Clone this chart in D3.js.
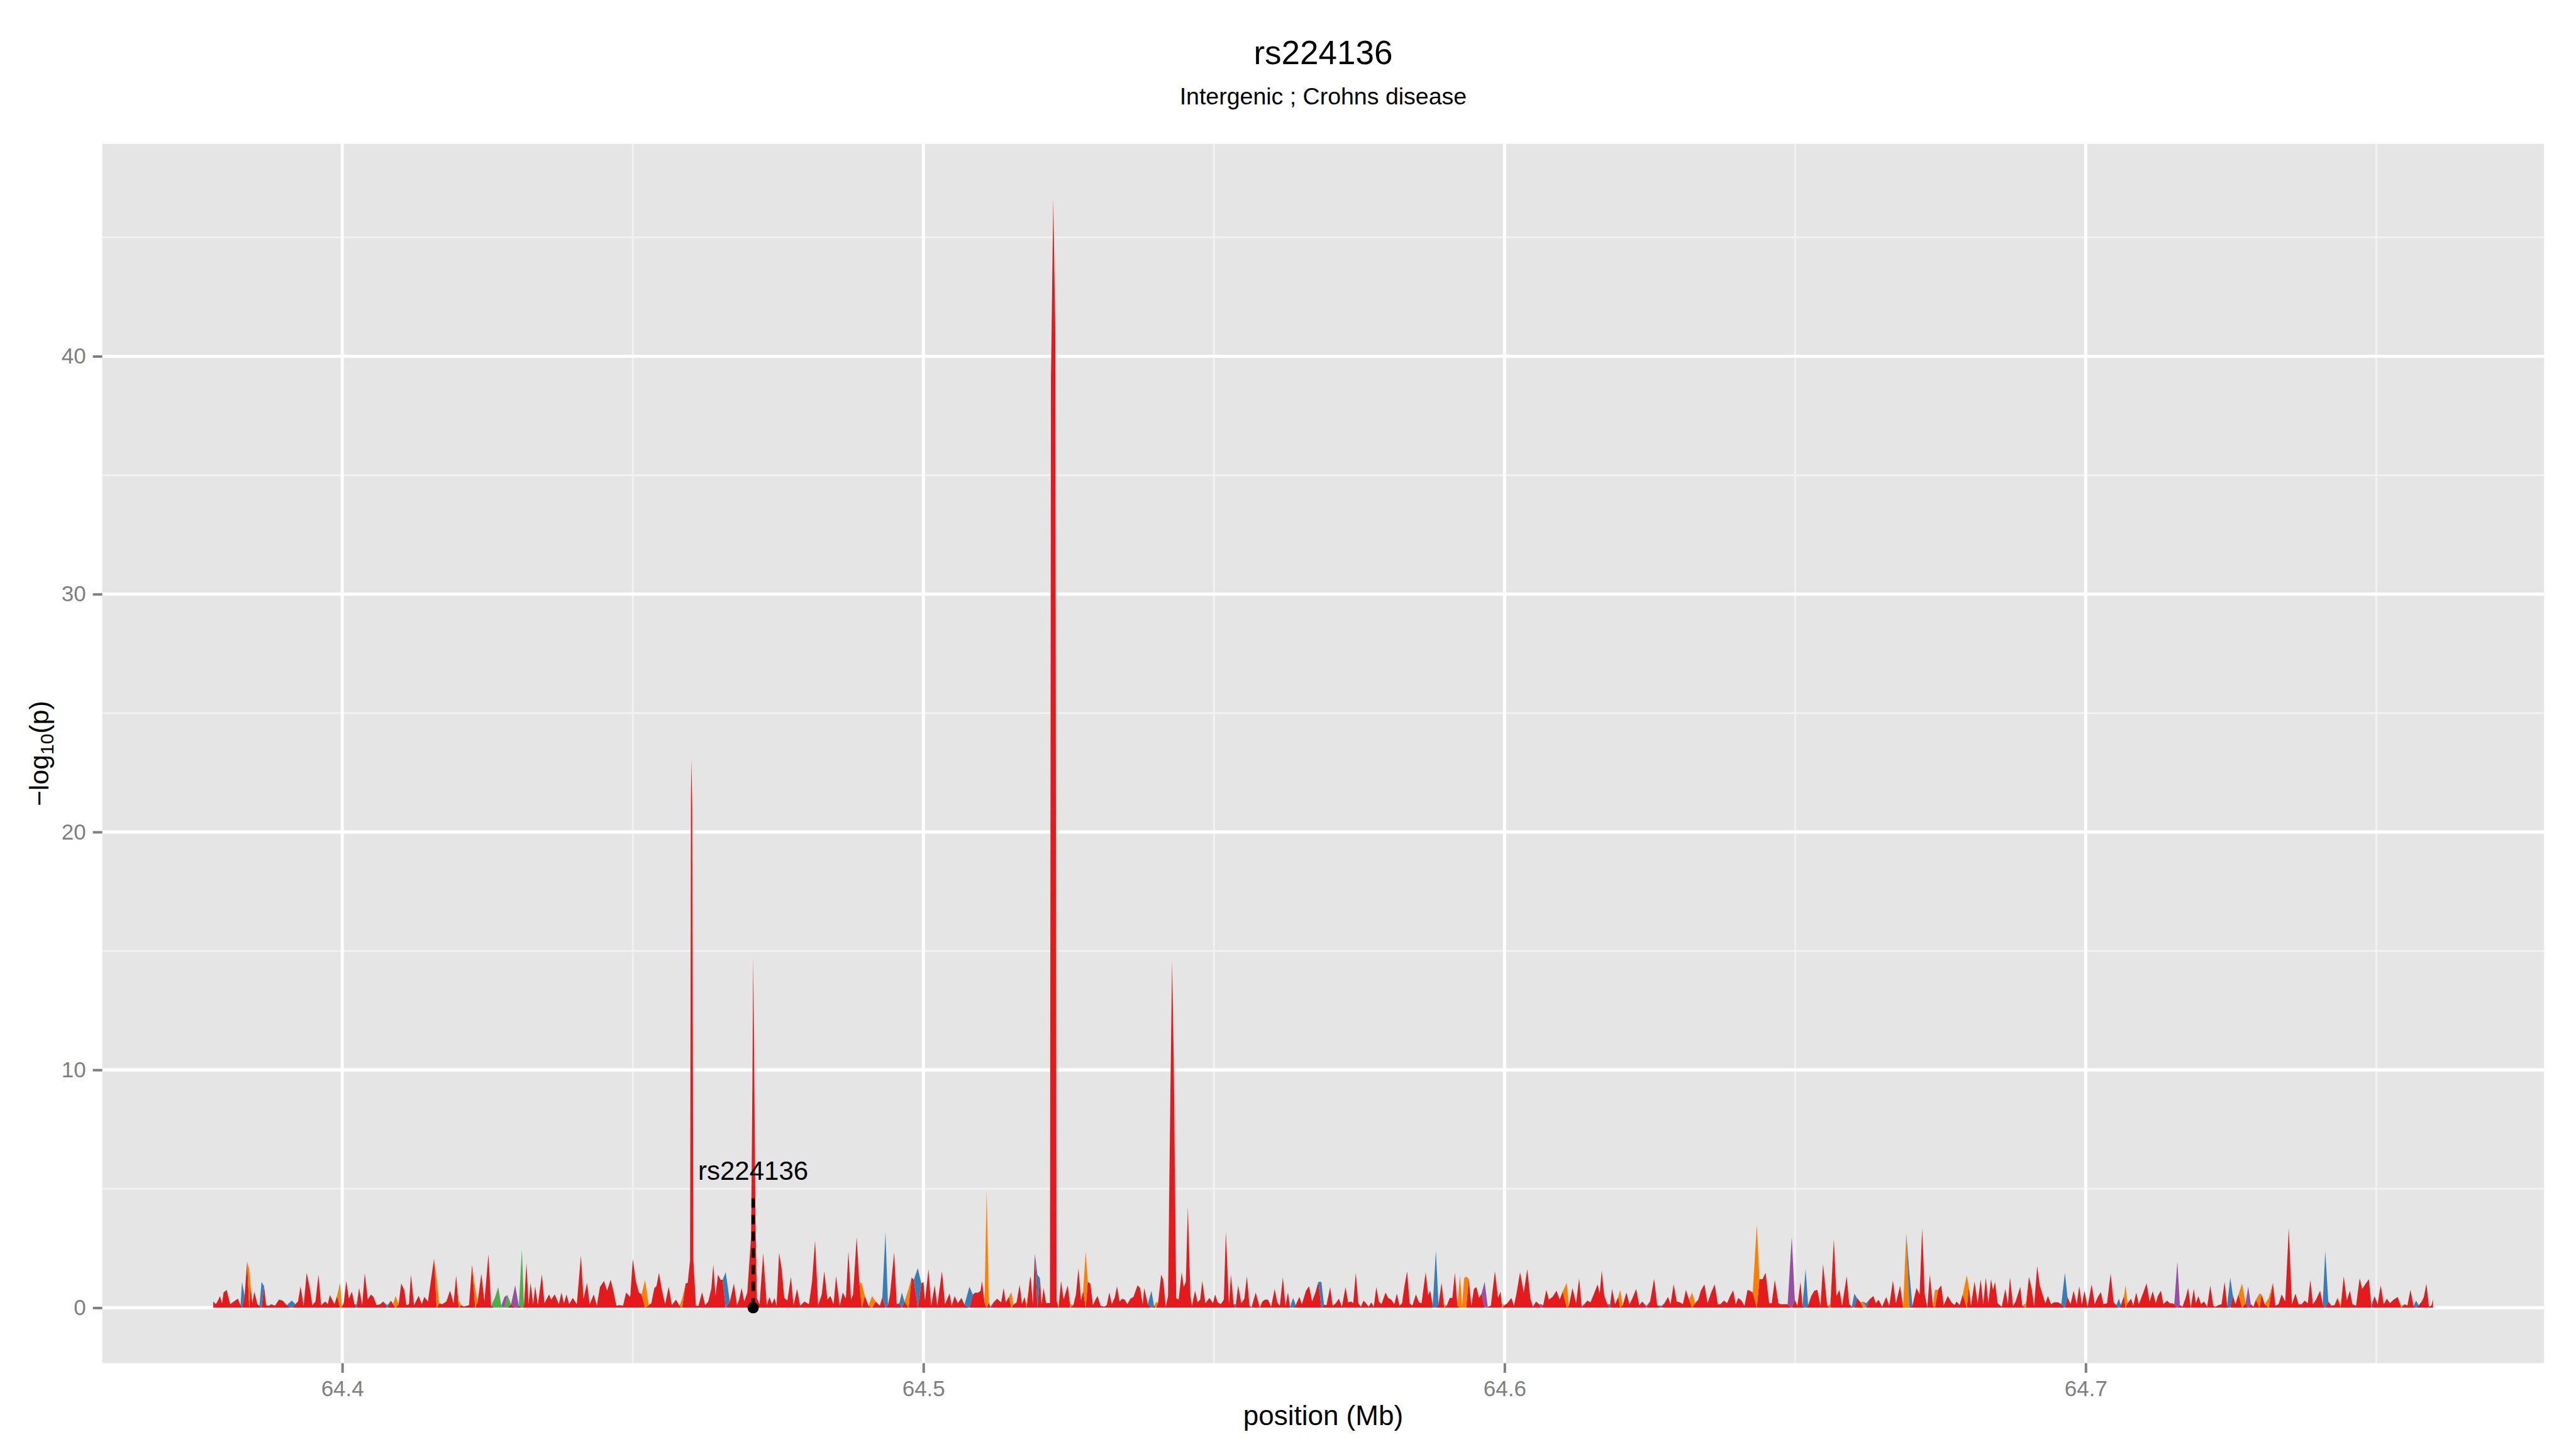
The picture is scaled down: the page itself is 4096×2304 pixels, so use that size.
<!DOCTYPE html>
<html>
<head>
<meta charset="utf-8">
<script src="https://cdnjs.cloudflare.com/ajax/libs/d3/7.8.5/d3.min.js"></script>
<style>
  html, body { margin: 0; padding: 0; background: #fff; }
  svg { display: block; }
  text { font-family: "Liberation Sans", Arial, Helvetica, sans-serif; }
</style>
</head>
<body>
<div id="chart"></div>
<script>
const title = "rs224136";
const subtitle = "Intergenic ; Crohns disease";
const xLabel = "position (Mb)";

const xTicks = [64.4, 64.5, 64.6, 64.7];
const xMinorTicks = [64.45, 64.55, 64.65, 64.75];
const yTicks = [0, 10, 20, 30, 40];
const yMinorTicks = [5, 15, 25, 35, 45];

// SNP positions (Mb)
const snpPos = [
  64.37780, 64.37825, 64.37869, 64.37895, 64.37931, 64.37957, 64.38010, 64.38072, 64.38134, 64.38204,
  64.38249, 64.38275, 64.38319, 64.38363, 64.38399, 64.38425, 64.38452, 64.38487, 64.38540, 64.38575,
  64.38611, 64.38655, 64.38690, 64.38735, 64.38779, 64.38841, 64.38911, 64.38973, 64.39044, 64.39132,
  64.39194, 64.39238, 64.39283, 64.39335, 64.39388, 64.39441, 64.39486, 64.39539, 64.39592, 64.39636,
  64.39707, 64.39751, 64.39786, 64.39866, 64.39910, 64.39963, 64.39989, 64.40025, 64.40069, 64.40113,
  64.40166, 64.40210, 64.40246, 64.40290, 64.40343, 64.40387, 64.40440, 64.40493, 64.40537, 64.40590,
  64.40652, 64.40705, 64.40776, 64.40838, 64.40873, 64.40917, 64.40970, 64.41014, 64.41067, 64.41103,
  64.41147, 64.41182, 64.41235, 64.41315, 64.41368, 64.41412, 64.41474, 64.41536, 64.41580, 64.41624,
  64.41668, 64.41721, 64.41792, 64.41854, 64.41916, 64.41960, 64.42004, 64.42048, 64.42092, 64.42181,
  64.42234, 64.42287, 64.42331, 64.42393, 64.42446, 64.42516, 64.42561, 64.42631, 64.42684, 64.42737,
  64.42790, 64.42843, 64.42905, 64.42976, 64.43038, 64.43091, 64.43126, 64.43170, 64.43206, 64.43241,
  64.43285, 64.43320, 64.43365, 64.43435, 64.43479, 64.43559, 64.43594, 64.43656, 64.43727, 64.43771,
  64.43815, 64.43859, 64.43904, 64.43966, 64.44036, 64.44107, 64.44151, 64.44213, 64.44257, 64.44328,
  64.44381, 64.44434, 64.44504, 64.44557, 64.44619, 64.44672, 64.44717, 64.44770, 64.44832, 64.44885,
  64.44955, 64.45000, 64.45052, 64.45105, 64.45150, 64.45212, 64.45273, 64.45318, 64.45371, 64.45406,
  64.45450, 64.45503, 64.45556, 64.45618, 64.45671, 64.45742, 64.45804, 64.45848, 64.45909, 64.45945,
  64.45985, 64.46000, 64.46011, 64.46022, 64.46042, 64.46086, 64.46130, 64.46192, 64.46245, 64.46298,
  64.46351, 64.46386, 64.46422, 64.46466, 64.46510, 64.46545, 64.46598, 64.46669, 64.46740, 64.46793,
  64.46828, 64.46872, 64.46917, 64.46970, 64.47035, 64.47058, 64.47071, 64.47084, 64.47112, 64.47135,
  64.47181, 64.47243, 64.47305, 64.47350, 64.47394, 64.47438, 64.47473, 64.47517, 64.47562, 64.47606,
  64.47659, 64.47721, 64.47765, 64.47827, 64.47880, 64.47951, 64.48030, 64.48083, 64.48136, 64.48189,
  64.48251, 64.48295, 64.48348, 64.48401, 64.48454, 64.48498, 64.48560, 64.48613, 64.48666, 64.48710,
  64.48755, 64.48790, 64.48852, 64.48896, 64.48940, 64.48993, 64.49055, 64.49117, 64.49179, 64.49250,
  64.49294, 64.49347, 64.49391, 64.49426, 64.49497, 64.49541, 64.49585, 64.49630, 64.49674, 64.49745,
  64.49797, 64.49833, 64.49904, 64.49965, 64.50001, 64.50027, 64.50089, 64.50133, 64.50195, 64.50239,
  64.50319, 64.50372, 64.50451, 64.50486, 64.50539, 64.50592, 64.50654, 64.50707, 64.50792, 64.50851,
  64.50888, 64.50941, 64.50983, 64.51009, 64.51052, 64.51089, 64.51126, 64.51153, 64.51206, 64.51269,
  64.51338, 64.51381, 64.51418, 64.51471, 64.51513, 64.51550, 64.51603, 64.51656, 64.51697, 64.51741,
  64.51777, 64.51830, 64.51847, 64.51883, 64.51918, 64.51962, 64.52006, 64.52033, 64.52068, 64.52112,
  64.52178, 64.52195, 64.52235, 64.52270, 64.52292, 64.52325, 64.52369, 64.52413, 64.52484, 64.52528,
  64.52581, 64.52625, 64.52669, 64.52713, 64.52749, 64.52793, 64.52828, 64.52872, 64.52917, 64.52961,
  64.52996, 64.53049, 64.53111, 64.53155, 64.53199, 64.53243, 64.53296, 64.53332, 64.53376, 64.53420,
  64.53464, 64.53509, 64.53562, 64.53615, 64.53685, 64.53729, 64.53774, 64.53800, 64.53862, 64.53924,
  64.53968, 64.54003, 64.54039, 64.54092, 64.54127, 64.54171, 64.54210, 64.54250, 64.54280, 64.54310,
  64.54350, 64.54392, 64.54445, 64.54480, 64.54516, 64.54551, 64.54595, 64.54622, 64.54675, 64.54719,
  64.54763, 64.54799, 64.54852, 64.54922, 64.54984, 64.55019, 64.55064, 64.55117, 64.55170, 64.55205,
  64.55258, 64.55293, 64.55338, 64.55373, 64.55417, 64.55470, 64.55523, 64.55567, 64.55612, 64.55647,
  64.55718, 64.55788, 64.55833, 64.55877, 64.55930, 64.55983, 64.56045, 64.56089, 64.56133, 64.56186,
  64.56230, 64.56274, 64.56310, 64.56363, 64.56407, 64.56469, 64.56513, 64.56584, 64.56637, 64.56690,
  64.56751, 64.56796, 64.56849, 64.56893, 64.56937, 64.56999, 64.57043, 64.57096, 64.57149, 64.57202,
  64.57264, 64.57308, 64.57361, 64.57396, 64.57441, 64.57485, 64.57529, 64.57573, 64.57617, 64.57662,
  64.57706, 64.57750, 64.57794, 64.57838, 64.57882, 64.57953, 64.57997, 64.58050, 64.58103, 64.58148,
  64.58192, 64.58236, 64.58280, 64.58324, 64.58368, 64.58413, 64.58475, 64.58528, 64.58572, 64.58643,
  64.58687, 64.58722, 64.58766, 64.58819, 64.58864, 64.58917, 64.58961, 64.59005, 64.59058, 64.59102,
  64.59146, 64.59190, 64.59234, 64.59270, 64.59305, 64.59340, 64.59385, 64.59429, 64.59473, 64.59517,
  64.59561, 64.59605, 64.59658, 64.59711, 64.59764, 64.59835, 64.59888, 64.59932, 64.59959, 64.60003,
  64.60047, 64.60118, 64.60162, 64.60206, 64.60268, 64.60330, 64.60392, 64.60445, 64.60489, 64.60542,
  64.60595, 64.60630, 64.60666, 64.60719, 64.60763, 64.60825, 64.60895, 64.60948, 64.61001, 64.61072,
  64.61107, 64.61169, 64.61231, 64.61284, 64.61328, 64.61373, 64.61426, 64.61479, 64.61541, 64.61602,
  64.61638, 64.61673, 64.61717, 64.61770, 64.61814, 64.61850, 64.61903, 64.61956, 64.61991, 64.62035,
  64.62097, 64.62150, 64.62203, 64.62265, 64.62318, 64.62371, 64.62442, 64.62504, 64.62575, 64.62627,
  64.62698, 64.62751, 64.62813, 64.62857, 64.62910, 64.62963, 64.63016, 64.63069, 64.63122, 64.63175,
  64.63228, 64.63281, 64.63334, 64.63378, 64.63440, 64.63493, 64.63555, 64.63617, 64.63670, 64.63714,
  64.63776, 64.63829, 64.63882, 64.63935, 64.63979, 64.64023, 64.64076, 64.64129, 64.64182, 64.64218,
  64.64271, 64.64342, 64.64386, 64.64439, 64.64492, 64.64554, 64.64598, 64.64651, 64.64713, 64.64757,
  64.64819, 64.64872, 64.64942, 64.64995, 64.65040, 64.65093, 64.65128, 64.65181, 64.65225, 64.65278,
  64.65331, 64.65384, 64.65437, 64.65481, 64.65552, 64.65605, 64.65667, 64.65711, 64.65764, 64.65808,
  64.65888, 64.65932, 64.65976, 64.66020, 64.66064, 64.66126, 64.66170, 64.66223, 64.66277, 64.66347,
  64.66391, 64.66436, 64.66497, 64.66568, 64.66621, 64.66683, 64.66736, 64.66807, 64.66860, 64.66913,
  64.66966, 64.67019, 64.67089, 64.67142, 64.67187, 64.67231, 64.67275, 64.67319, 64.67372, 64.67407,
  64.67461, 64.67514, 64.67558, 64.67628, 64.67690, 64.67743, 64.67779, 64.67832, 64.67885, 64.67955,
  64.67991, 64.68026, 64.68088, 64.68141, 64.68194, 64.68238, 64.68282, 64.68326, 64.68371, 64.68406,
  64.68441, 64.68485, 64.68556, 64.68618, 64.68662, 64.68698, 64.68751, 64.68795, 64.68874, 64.68910,
  64.68971, 64.69024, 64.69069, 64.69113, 64.69166, 64.69210, 64.69263, 64.69307, 64.69351, 64.69404,
  64.69457, 64.69528, 64.69581, 64.69643, 64.69687, 64.69740, 64.69793, 64.69846, 64.69890, 64.69935,
  64.69979, 64.70032, 64.70103, 64.70156, 64.70209, 64.70262, 64.70306, 64.70368, 64.70430, 64.70482,
  64.70527, 64.70571, 64.70606, 64.70659, 64.70686, 64.70721, 64.70783, 64.70818, 64.70871, 64.70915,
  64.70995, 64.71048, 64.71101, 64.71154, 64.71207, 64.71242, 64.71295, 64.71339, 64.71401, 64.71445,
  64.71490, 64.71525, 64.71578, 64.71622, 64.71666, 64.71719, 64.71764, 64.71808, 64.71861, 64.71896,
  64.71940, 64.71984, 64.72037, 64.72091, 64.72144, 64.72197, 64.72232, 64.72285, 64.72338, 64.72391,
  64.72435, 64.72488, 64.72532, 64.72577, 64.72630, 64.72691, 64.72753, 64.72797, 64.72842, 64.72886,
  64.72930, 64.72992, 64.73027, 64.73080, 64.73151, 64.73222, 64.73266, 64.73319, 64.73372, 64.73434,
  64.73496, 64.73549, 64.73611, 64.73664, 64.73717, 64.73769, 64.73822, 64.73867, 64.73911, 64.73964,
  64.74035, 64.74079, 64.74123, 64.74176, 64.74229, 64.74282, 64.74335, 64.74388, 64.74441, 64.74494,
  64.74547, 64.74591, 64.74653, 64.74715, 64.74759, 64.74812, 64.74874, 64.74918, 64.74971, 64.75024,
  64.75077, 64.75130, 64.75183, 64.75236, 64.75298, 64.75369, 64.75431, 64.75492, 64.75536, 64.75589,
  64.75642, 64.75687, 64.75731, 64.75784, 64.75819, 64.75864, 64.75908, 64.75952, 64.75978
];

// -log10(p) for each SNP, same order as snpPos
const snpLogP = [
  0.26, 0.15, 0.34, 0.49, 0.19, 0.64, 0.75, 0.15, 0.26, 0.38,
  0.11, 1.09, 0.49, 1.94, 1.62, 0.87, 0.19, 0.68, 0.15, 0.08,
  1.09, 0.90, 0.11, 0.08, 0.15, 0.08, 0.34, 0.30, 0.11, 0.30,
  0.15, 0.26, 0.90, 0.08, 1.47, 0.83, 0.11, 0.26, 1.39, 0.11,
  0.26, 0.15, 0.53, 0.15, 0.49, 1.05, 0.08, 0.19, 1.13, 0.38,
  0.68, 0.15, 0.15, 0.83, 0.11, 1.45, 0.34, 0.56, 0.45, 0.11,
  0.15, 0.26, 0.11, 0.30, 0.15, 0.49, 0.15, 1.02, 0.75, 0.11,
  0.15, 1.39, 0.11, 0.50, 0.15, 0.45, 0.26, 1.32, 2.07, 1.24,
  0.19, 0.15, 0.26, 0.72, 0.19, 1.36, 0.30, 0.11, 0.05, 0.11,
  1.81, 0.83, 0.26, 1.43, 0.26, 2.26, 0.08, 0.45, 0.87, 0.08,
  0.45, 0.53, 0.15, 0.94, 0.08, 2.45, 0.08, 1.88, 0.15, 1.05,
  0.15, 0.90, 0.11, 1.41, 0.19, 0.56, 0.34, 0.56, 0.15, 0.64,
  0.19, 0.56, 0.15, 0.41, 0.15, 2.20, 0.38, 1.05, 0.15, 0.56,
  0.08, 0.87, 1.13, 0.72, 1.18, 0.64, 0.08, 0.11, 0.09, 0.64,
  0.45, 2.05, 1.13, 0.64, 0.56, 1.17, 0.11, 0.19, 0.83, 0.90,
  1.47, 0.72, 0.15, 0.88, 0.11, 0.34, 0.08, 0.38, 1.02, 1.05,
  2.00, 21.5, 23.06, 21.0, 2.00, 0.08, 0.08, 0.66, 0.11, 0.26,
  0.81, 1.82, 0.49, 1.39, 1.17, 1.17, 1.50, 0.26, 1.02, 0.11,
  0.34, 0.83, 0.26, 0.64, 3.00, 9.50, 14.7, 11.5, 3.50, 0.40,
  0.15, 2.30, 0.11, 0.45, 0.15, 0.41, 0.08, 2.31, 1.62, 0.41,
  0.30, 1.30, 0.11, 0.79, 0.08, 0.26, 0.15, 1.09, 2.82, 0.11,
  0.56, 1.54, 0.34, 0.49, 0.15, 1.33, 0.08, 0.64, 0.38, 2.37,
  0.34, 0.56, 2.97, 1.09, 1.02, 0.49, 0.08, 0.49, 0.26, 0.08,
  0.45, 3.18, 0.11, 0.56, 2.33, 0.15, 0.19, 0.64, 0.26, 0.79,
  1.28, 1.17, 1.66, 1.02, 1.09, 0.30, 1.62, 0.08, 0.94, 0.08,
  1.54, 0.15, 0.60, 0.08, 0.49, 0.19, 0.41, 0.13, 0.88, 0.55,
  0.63, 0.63, 0.71, 1.13, 0.22, 4.94, 0.22, 0.05, 0.22, 0.38,
  0.22, 0.83, 0.22, 0.46, 0.66, 0.13, 0.22, 0.96, 0.15, 0.45,
  0.15, 1.17, 1.32, 0.15, 2.28, 1.39, 1.24, 0.15, 0.83, 0.19,
  0.20, 39.0, 46.6, 41.0, 0.30, 0.08, 1.13, 0.34, 0.94, 0.15,
  0.11, 0.56, 1.66, 0.30, 0.72, 2.37, 1.09, 1.02, 0.11, 0.34,
  0.49, 0.08, 0.04, 0.11, 0.64, 0.15, 0.45, 0.90, 0.26, 0.38,
  0.34, 0.15, 0.38, 0.45, 0.94, 0.83, 0.15, 0.83, 0.15, 0.72,
  0.08, 0.23, 0.23, 1.39, 1.17, 0.04, 0.50, 9.00, 14.6, 10.0,
  0.40, 0.34, 1.50, 0.87, 1.09, 4.25, 0.49, 0.08, 0.72, 0.23,
  0.34, 1.13, 0.19, 0.41, 0.19, 0.56, 0.23, 0.15, 0.34, 3.20,
  0.15, 1.39, 0.15, 0.15, 0.94, 0.19, 0.38, 1.32, 0.08, 0.04,
  0.64, 0.04, 0.26, 0.34, 0.34, 0.04, 0.79, 0.23, 0.08, 1.28,
  0.08, 0.64, 0.04, 0.41, 0.11, 0.45, 0.15, 0.72, 0.90, 0.26,
  0.68, 1.09, 1.09, 0.13, 0.11, 0.87, 0.08, 0.19, 0.38, 0.04,
  0.87, 0.23, 0.26, 0.19, 1.47, 0.19, 0.04, 0.30, 0.19, 0.04,
  0.23, 0.04, 0.87, 0.26, 0.15, 0.64, 0.41, 0.34, 0.15, 0.60,
  0.08, 0.19, 0.94, 1.53, 0.19, 0.08, 0.56, 0.23, 0.19, 1.50,
  0.53, 0.72, 0.15, 2.41, 0.15, 1.05, 0.15, 0.08, 0.41, 0.41,
  1.47, 0.08, 1.36, 0.08, 1.24, 1.32, 1.20, 0.08, 0.79, 0.87,
  0.41, 0.60, 1.09, 0.04, 0.08, 1.54, 0.41, 0.68, 0.15, 0.11,
  0.19, 0.41, 0.08, 0.60, 1.50, 0.64, 1.62, 0.38, 0.04, 0.26,
  0.15, 0.15, 0.11, 0.75, 0.34, 0.45, 0.72, 0.34, 0.68, 1.05,
  0.08, 0.83, 0.19, 1.24, 0.04, 0.15, 0.30, 0.23, 0.60, 0.98,
  0.60, 1.56, 0.49, 0.15, 0.15, 0.79, 0.15, 0.45, 0.75, 0.11,
  0.64, 0.15, 0.41, 0.79, 0.11, 0.26, 0.08, 0.26, 1.22, 0.11,
  0.08, 0.19, 0.45, 0.15, 0.99, 0.26, 0.23, 0.15, 0.75, 0.34,
  0.64, 0.19, 0.34, 0.72, 0.98, 0.19, 0.64, 0.98, 0.15, 0.15,
  0.30, 0.19, 0.49, 0.73, 0.15, 0.41, 0.30, 0.08, 0.75, 0.72,
  0.64, 3.50, 1.20, 1.20, 1.47, 0.19, 0.19, 1.17, 0.19, 0.15,
  0.15, 0.15, 2.97, 0.34, 0.08, 1.09, 0.08, 1.62, 0.11, 0.49,
  0.72, 0.75, 0.08, 1.84, 0.08, 0.15, 2.90, 0.49, 0.75, 0.08,
  1.32, 0.15, 0.04, 0.59, 0.41, 0.23, 0.26, 0.19, 0.34, 0.49,
  0.19, 0.34, 0.04, 0.45, 0.08, 1.14, 0.19, 0.93, 0.08, 3.14,
  1.50, 0.08, 0.83, 0.56, 3.35, 0.56, 0.08, 1.39, 0.08, 0.75,
  0.75, 0.94, 0.11, 0.49, 0.23, 0.11, 0.26, 0.11, 0.56, 1.37,
  0.87, 0.08, 1.11, 0.19, 1.20, 0.15, 1.27, 0.19, 1.20, 0.75,
  1.09, 0.19, 0.04, 0.79, 0.15, 1.28, 0.08, 0.26, 0.88, 0.08,
  0.19, 1.30, 0.83, 0.08, 1.75, 0.94, 0.53, 0.19, 0.49, 0.15,
  0.23, 0.23, 0.15, 1.48, 0.45, 0.15, 0.72, 0.15, 0.90, 0.13,
  0.72, 0.04, 0.98, 0.15, 0.45, 0.66, 0.15, 0.19, 1.43, 0.23,
  0.11, 0.38, 0.11, 0.49, 0.94, 0.19, 0.38, 0.08, 0.64, 0.15,
  0.66, 1.03, 0.26, 0.70, 0.19, 0.49, 0.72, 0.15, 0.30, 0.19,
  0.19, 0.15, 1.94, 0.11, 0.04, 0.40, 0.83, 0.04, 0.79, 0.19,
  0.49, 0.15, 0.26, 0.04, 0.93, 0.08, 0.04, 0.11, 0.15, 1.09,
  0.08, 1.27, 0.53, 0.15, 0.56, 1.02, 0.19, 0.89, 0.15, 0.04,
  0.34, 0.60, 0.56, 0.15, 0.41, 1.04, 0.08, 0.15, 0.56, 0.26,
  3.35, 0.15, 0.59, 0.15, 0.15, 0.30, 0.19, 1.17, 0.15, 0.34,
  0.72, 0.15, 2.39, 0.26, 0.08, 0.11, 0.41, 0.15, 1.32, 0.30,
  0.72, 0.15, 0.08, 1.24, 0.79, 0.99, 1.20, 0.15, 0.49, 0.15,
  0.94, 0.15, 0.38, 0.19, 0.34, 0.45, 0.08, 0.15, 0.08, 0.75,
  0.08, 0.30, 0.10, 0.26, 0.45, 1.00, 0.04, 0.10, 0.36
];

// SNPs outside the default (red) class, by position
const orangeSnps = [
  64.38399, 64.39963, 64.39989, 64.40917, 64.41624, 64.42004, 64.42287, 64.45212, 64.45848, 64.48940,
  64.49117, 64.49745, 64.51089, 64.51513, 64.51777, 64.52325, 64.52528, 64.52793, 64.54003, 64.55788,
  64.58961, 64.59234, 64.59270, 64.59305, 64.59340, 64.59959, 64.61072, 64.61991, 64.63228, 64.64342,
  64.65605, 64.66170, 64.66860, 64.66913, 64.67407, 64.67955, 64.68971, 64.70686, 64.72691, 64.72992,
  64.73151, 64.74388, 64.75431
];
const blueSnps = [
  64.38275, 64.38611, 64.39132, 64.40246, 64.40776, 64.46598, 64.49347, 64.49630, 64.49904, 64.50792,
  64.51962, 64.53924, 64.55373, 64.55647, 64.56310, 64.56363, 64.56849, 64.58766, 64.58819, 64.61814,
  64.62698, 64.65181, 64.66020, 64.66223, 64.66966, 64.67275, 64.69643, 64.70571, 64.71808, 64.72488,
  64.74123, 64.74918, 64.75687
];
const greenSnps = [64.42631, 64.42684, 64.42737, 64.42843, 64.43091];
const purpleSnps = [
  64.42790, 64.42976, 64.51153, 64.59658, 64.60630, 64.62442, 64.64942, 64.71578, 64.72797
];

const classKeys = ["red", "orange", "blue", "green", "purple"];
const classColors = ["#E41A1C", "#FF7F00", "#377EB8", "#4DAF4A", "#984EA3"];

// the highlighted SNP: dashed marker up to lineTop, label centred at labelY
const leadSnp = { name: "rs224136", pos: 64.47071, lineTop: 4.6, labelY: 5.75 };

if (snpPos.length !== snpLogP.length) {
  throw new Error(`snpPos (${snpPos.length}) and snpLogP (${snpLogP.length}) differ`);
}

const W = 4096, H = 2304;
const margin = { top: 228.7, right: 50.8, bottom: 136.5, left: 162.6 };
const width = W - margin.left - margin.right;
const height = H - margin.top - margin.bottom;

const svg = d3.select("#chart")
  .append("svg")
  .attr("width", W)
  .attr("height", H);

svg.append("rect").attr("width", W).attr("height", H).attr("fill", "#fff");

const g = svg.append("g").attr("transform", `translate(${margin.left},${margin.top})`);

// ggplot style 5% expansion
const xExt = d3.extent(snpPos);
const xPad = (xExt[1] - xExt[0]) * 0.05;
const x = d3.scaleLinear().domain([xExt[0] - xPad, xExt[1] + xPad]).range([0, width]);

const yMax = d3.max(snpLogP);
const yPad = yMax * 0.05;
const y = d3.scaleLinear().domain([-yPad, yMax + yPad]).range([height, 0]);

// panel
g.append("rect").attr("width", width).attr("height", height).attr("fill", "#E5E5E5");

g.selectAll(".grid-minor-x")
  .data(xMinorTicks.filter((d) => d > x.domain()[0] && d < x.domain()[1]))
  .join("line")
  .attr("x1", (d) => x(d)).attr("x2", (d) => x(d))
  .attr("y1", 0).attr("y2", height)
  .attr("stroke", "#F2F2F2").attr("stroke-width", 2.8);

g.selectAll(".grid-minor-y")
  .data(yMinorTicks.filter((d) => d > y.domain()[0] && d < y.domain()[1]))
  .join("line")
  .attr("x1", 0).attr("x2", width)
  .attr("y1", (d) => y(d)).attr("y2", (d) => y(d))
  .attr("stroke", "#F2F2F2").attr("stroke-width", 2.8);

g.selectAll(".grid-major-x")
  .data(xTicks)
  .join("line")
  .attr("x1", (d) => x(d)).attr("x2", (d) => x(d))
  .attr("y1", 0).attr("y2", height)
  .attr("stroke", "#fff").attr("stroke-width", 5.1);

g.selectAll(".grid-major-y")
  .data(yTicks)
  .join("line")
  .attr("x1", 0).attr("x2", width)
  .attr("y1", (d) => y(d)).attr("y2", (d) => y(d))
  .attr("stroke", "#fff").attr("stroke-width", 5.1);

// stacked areas, one layer per class
const classOf = new Map();
orangeSnps.forEach((p) => classOf.set(p, "orange"));
blueSnps.forEach((p) => classOf.set(p, "blue"));
greenSnps.forEach((p) => classOf.set(p, "green"));
purpleSnps.forEach((p) => classOf.set(p, "purple"));

const rows = snpPos.map((p, i) => {
  const row = { pos: p };
  classKeys.forEach((k) => (row[k] = 0));
  row[classOf.get(p) || "red"] = snpLogP[i];
  return row;
});

const layers = d3.stack().keys(classKeys)(rows);
const color = d3.scaleOrdinal().domain(classKeys).range(classColors);

const area = d3.area()
  .x((d) => x(d.data.pos))
  .y0((d) => y(d[0]))
  .y1((d) => y(d[1]));

g.selectAll(".layer")
  .data(layers)
  .join("path")
  .attr("class", "layer")
  .attr("fill", (d) => color(d.key))
  .attr("d", area);

// lead SNP marker
g.append("line")
  .attr("x1", x(leadSnp.pos)).attr("x2", x(leadSnp.pos))
  .attr("y1", y(0)).attr("y2", y(leadSnp.lineTop))
  .attr("stroke", "#000")
  .attr("stroke-width", 5.4)
  .attr("stroke-dasharray", "15,11.5");

g.append("circle")
  .attr("cx", x(leadSnp.pos)).attr("cy", y(0))
  .attr("r", 9)
  .attr("fill", "#000");

g.append("text")
  .attr("x", x(leadSnp.pos))
  .attr("y", y(leadSnp.labelY))
  .attr("text-anchor", "middle")
  .attr("dominant-baseline", "central")
  .attr("font-size", 42)
  .attr("fill", "#000")
  .text(leadSnp.name);

// axes
const xAxis = g.append("g")
  .attr("transform", `translate(0,${height})`)
  .call(d3.axisBottom(x).tickValues(xTicks).tickFormat(d3.format(".1f")).tickSize(15.4).tickPadding(11.9));

const yAxis = g.append("g")
  .call(d3.axisLeft(y).tickValues(yTicks).tickFormat(d3.format("d")).tickSize(15).tickPadding(11));

[xAxis, yAxis].forEach((ax) => {
  ax.select(".domain").remove();
  ax.selectAll(".tick line").attr("stroke", "#7F7F7F").attr("stroke-width", 4);
  ax.selectAll(".tick text")
    .attr("fill", "#7F7F7F")
    .attr("font-size", 35)
    .attr("font-family", '"Liberation Sans", Arial, sans-serif');
});

// titles
const cx = margin.left + width / 2;

svg.append("text")
  .attr("x", cx).attr("y", 102.4)
  .attr("text-anchor", "middle")
  .attr("font-size", 53)
  .attr("fill", "#000")
  .text(title);

svg.append("text")
  .attr("x", cx).attr("y", 165.5)
  .attr("text-anchor", "middle")
  .attr("font-size", 37.5)
  .attr("fill", "#000")
  .text(subtitle);

svg.append("text")
  .attr("x", cx).attr("y", 2265.5)
  .attr("text-anchor", "middle")
  .attr("font-size", 44)
  .attr("fill", "#000")
  .text(xLabel);

const yLab = svg.append("text")
  .attr("transform", `translate(76.8,${margin.top + height / 2}) rotate(-90)`)
  .attr("text-anchor", "middle")
  .attr("font-size", 42.7)
  .attr("fill", "#000");
yLab.append("tspan").text("\u2212log");
yLab.append("tspan").attr("font-size", 30).attr("dy", 8).text("10");
yLab.append("tspan").attr("dy", -8).text("(p)");
</script>
</body>
</html>
